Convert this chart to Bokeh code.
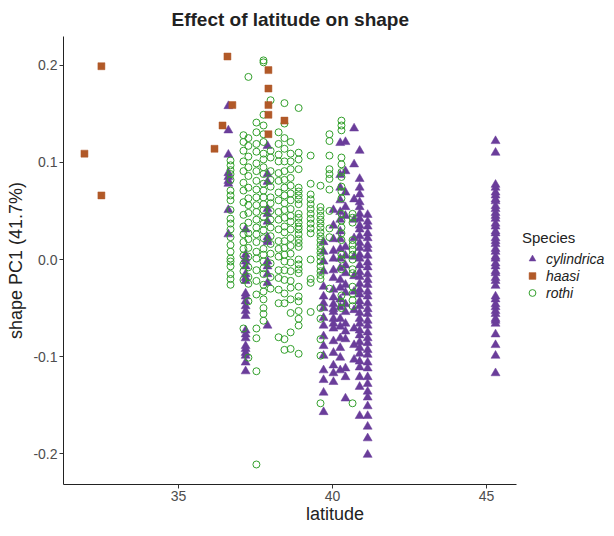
from bokeh.plotting import figure
from bokeh.layouts import row
from bokeh.models import Legend, LegendItem, FixedTicker, PrintfTickFormatter, Range1d, Spacer
from bokeh.embed import file_html
from bokeh.resources import INLINE

# ---------------- data ----------------
# haasi
haasi_lat = [31.95, 32.5, 32.5, 36.17, 36.43, 36.59, 36.75, 37.92, 37.92, 37.92, 37.92, 37.92, 38.44]
haasi_pc1 = [0.109, 0.199, 0.066, 0.114, 0.138, 0.209, 0.159, 0.195, 0.176, 0.159, 0.149, 0.129, 0.143]

# cylindrica (site latitudes and PC1 values per site)
cyl_sites = [36.62, 37.18, 37.89, 39.71, 40.03, 40.25, 40.42, 40.70, 40.88, 41.14, 45.29]
cyl_36_6 = [0.158, 0.133, 0.108, 0.089, 0.085, 0.081, 0.078, 0.051, 0.026]
cyl_37_2 = [0.031, 0.005, 0.001, -0.002, -0.007, -0.015, -0.019, -0.022, -0.035, -0.038, -0.043,
            -0.048, -0.053, -0.058, -0.073, -0.077, -0.081, -0.089, -0.092, -0.096, -0.099, -0.106, -0.115]
cyl_37_9 = [0.117, 0.088, 0.080, 0.052, 0.047, 0.039, 0.023, 0.020, 0.018, -0.002, -0.007, -0.015, -0.024, -0.068]
cyl_39_7 = [0.018, 0.008, -0.002, -0.012, -0.028, -0.038, -0.045, -0.050, -0.060, -0.068, -0.079,
            -0.089, -0.099, -0.114, -0.124, -0.137, -0.157]
cyl_40_0 = [0.051, 0.035, 0.021, 0.009, 0.001, -0.011, -0.019, -0.031, -0.039, -0.046, -0.051, -0.054,
            -0.061, -0.066, -0.071, -0.084, -0.096, -0.109, -0.117, -0.126]
cyl_40_3 = [0.120, 0.087, 0.074, 0.061, 0.049, 0.041, 0.029, 0.021, 0.011, 0.001, -0.009, -0.021,
            -0.029, -0.041, -0.049, -0.061, -0.069, -0.081, -0.091, -0.101, -0.114]
cyl_40_4 = [0.121, 0.091, 0.069, 0.054, 0.045, 0.013, 0.004, -0.006, -0.014, -0.026, -0.034, -0.046,
            -0.054, -0.066, -0.074, -0.082, -0.112, -0.121, -0.143]
cyl_40_7 = [0.135, 0.098, 0.062, 0.041, 0.022, 0.003, -0.017, -0.033, -0.052, -0.071, -0.088, -0.103]
cyl_40_9 = [0.112, 0.083, 0.074, 0.067, 0.059, 0.054, 0.047, 0.042, 0.035, 0.031, 0.024, 0.017, 0.012,
            0.005, 0.001, -0.006, -0.013, -0.018, -0.025, -0.031, -0.036, -0.043, -0.048, -0.055, -0.061,
            -0.066, -0.073, -0.078, -0.085, -0.091, -0.097, -0.105, -0.111, -0.121, -0.131, -0.161]
cyl_41_1 = [0.046, 0.039, 0.034, 0.027, 0.022, 0.015, 0.011, 0.004, -0.003, -0.008, -0.015, -0.021,
            -0.026, -0.033, -0.038, -0.045, -0.051, -0.056, -0.063, -0.068, -0.075, -0.081, -0.086,
            -0.093, -0.098, -0.106, -0.112, -0.121, -0.128, -0.136, -0.142, -0.151, -0.161, -0.172,
            -0.184, -0.201]
cyl_45_3 = [0.122, 0.110, 0.077, 0.074, 0.069, 0.066, 0.062, 0.060, 0.055, 0.052, 0.048, 0.045, 0.042,
            0.037, 0.034, 0.029, 0.027, 0.022, 0.019, 0.016, 0.011, 0.008, 0.003, 0.001, -0.004, -0.007,
            -0.012, -0.014, -0.019, -0.022, -0.027, -0.038, -0.041, -0.046, -0.049, -0.053, -0.056,
            -0.061, -0.063, -0.066, -0.077, -0.088, -0.099, -0.117]
cyl_values = [cyl_36_6, cyl_37_2, cyl_37_9, cyl_39_7, cyl_40_0, cyl_40_3, cyl_40_4, cyl_40_7,
              cyl_40_9, cyl_41_1, cyl_45_3]

# rothi
rot_sites = [36.69, 37.11, 37.27, 37.53, 37.76, 37.99, 38.25, 38.44, 38.64, 38.90, 39.29, 39.61, 39.90, 40.29, 40.65]
rot_36_7 = [0.102, 0.097, 0.092, 0.088, 0.082, 0.071, 0.066, 0.061, 0.051, 0.042, 0.037, 0.031, 0.023,
            0.015, 0.008, 0.001, -0.002, -0.007, -0.015, -0.020, -0.026]
rot_37_1 = [0.128, 0.121, 0.112, 0.101, 0.091, 0.079, 0.071, 0.059, 0.046, 0.034, 0.026, 0.018, 0.011,
            0.004, -0.005, -0.012, -0.021, -0.071]
rot_37_3 = [0.188, 0.125, 0.117, 0.106, 0.095, 0.086, 0.074, 0.063, 0.056, 0.048, 0.038, 0.027, 0.021,
            0.012, 0.003, -0.008, -0.018, -0.025, -0.043, -0.101]
rot_37_5 = [0.141, 0.131, 0.119, 0.111, 0.099, 0.091, 0.081, 0.072, 0.064, 0.056, 0.049, 0.041, 0.033,
            0.026, 0.018, 0.008, 0.001, -0.011, -0.022, -0.036, -0.071, -0.081, -0.115, -0.211]
rot_37_8 = [0.205, 0.203, 0.149, 0.138, 0.129, 0.121, 0.109, 0.103, 0.095, 0.088, 0.078, 0.071, 0.064,
            0.057, 0.051, 0.044, 0.037, 0.030, 0.022, 0.011, 0.005, -0.002, -0.009, -0.015, -0.026,
            -0.033, -0.041, -0.050, -0.056, -0.063]
rot_38_0 = [0.164, 0.112, 0.105, 0.091, 0.082, 0.075, 0.064, 0.058, 0.050, 0.041, 0.033, 0.024, 0.016,
            0.006, -0.004, -0.018, -0.030]
rot_38_2 = [0.131, 0.119, 0.108, 0.101, 0.089, 0.081, 0.069, 0.061, 0.049, 0.041, 0.031, 0.019, 0.011,
            0.003, -0.011, -0.019, -0.031, -0.045, -0.080]
rot_38_4 = [0.161, 0.140, 0.125, 0.114, 0.101, 0.091, 0.082, 0.074, 0.066, 0.058, 0.051, 0.043, 0.034,
            0.028, 0.019, 0.012, 0.005, -0.002, -0.011, -0.021, -0.035, -0.045, -0.082, -0.093]
rot_38_6 = [0.121, 0.109, 0.101, 0.093, 0.084, 0.076, 0.068, 0.061, 0.052, 0.045, 0.039, 0.031, 0.022,
            0.014, 0.006, -0.003, -0.012, -0.022, -0.029, -0.041, -0.055, -0.075, -0.092]
rot_38_9 = [0.156, 0.110, 0.103, 0.093, 0.074, 0.070, 0.066, 0.062, 0.057, 0.047, 0.043, 0.038, 0.034,
            0.031, 0.026, 0.021, 0.017, 0.013, 0.000, -0.005, -0.010, -0.014, -0.028, -0.038, -0.043,
            -0.053, -0.061, -0.068, -0.097]
rot_39_3 = [0.107, 0.078, 0.067, 0.062, 0.057, 0.052, 0.047, 0.042, 0.037, 0.032, 0.027, 0.000,
            -0.020, -0.024, -0.054]
rot_39_6 = [0.076, 0.054, 0.050, 0.045, 0.041, 0.037, 0.033, 0.028, 0.024, 0.020, 0.015, 0.011, 0.007,
            0.003, -0.002, -0.007, -0.012, -0.016, -0.020, -0.050, -0.061, -0.082, -0.099, -0.148]
rot_39_9 = [0.129, 0.122, 0.107, 0.093, 0.088, 0.083, 0.072, 0.050, 0.032, 0.023, -0.030]
rot_40_3 = [0.143, 0.138, 0.133, 0.105, 0.098, 0.090, 0.085, 0.075, 0.070, 0.063, 0.047, 0.040, 0.033,
            0.027, 0.020, 0.005, 0.000, -0.010, -0.037, -0.044, -0.050]
rot_40_6 = [0.047, 0.043, 0.038, 0.020, 0.015, 0.010, 0.005, 0.000, -0.010, -0.014, -0.028, -0.035,
            -0.042, -0.048, -0.148]
rot_values = [rot_36_7, rot_37_1, rot_37_3, rot_37_5, rot_37_8, rot_38_0, rot_38_2, rot_38_4, rot_38_6,
              rot_38_9, rot_39_3, rot_39_6, rot_39_9, rot_40_3, rot_40_6]

species = ["cylindrica", "haasi", "rothi"]
colors = ["#6A3D9A", "#B15928", "#33A02C"]
x_ticks = [35, 40, 45]
y_ticks = [-0.2, -0.1, 0.0, 0.1, 0.2]


def expand(sites, values):
    xs, ys = [], []
    for lat, vals in zip(sites, values):
        xs += [lat] * len(vals)
        ys += vals
    return xs, ys


cyl_lat, cyl_pc1 = expand(cyl_sites, cyl_values)
rot_lat, rot_pc1 = expand(rot_sites, rot_values)

# ---------------- figure ----------------
FONT = "Liberation Sans"
X0, X1 = 31.27, 45.97          # visible axis extent
PANEL_W = 453                  # width of the data panel in px
FRAME_W = 543                  # frame extends right to host the legend
x_end = X0 + (X1 - X0) * FRAME_W / PANEL_W

p = figure(frame_width=FRAME_W, frame_height=448, output_backend="svg", toolbar_location=None,
           x_range=Range1d(X0, x_end), y_range=Range1d(-0.2316, 0.2296),
           min_border_left=0, min_border_right=0, min_border_top=0, min_border_bottom=0,
           title="Effect of latitude on shape")
p.title.align = "left"
p.title.offset = 108
p.title.standoff = 13
p.title.text_font = FONT
p.title.text_font_size = "19px"
p.title.text_font_style = "bold"
p.title.text_color = "#222222"

p.grid.visible = False
p.outline_line_color = None

for ax in (p.xaxis[0], p.yaxis[0]):
    ax.axis_line_color = "#222222"
    ax.axis_line_width = 1
    ax.major_tick_line_color = "#333333"
    ax.major_tick_out = 4
    ax.major_tick_in = 0
    ax.minor_tick_line_color = None
    ax.major_label_text_font = FONT
    ax.major_label_text_font_size = "14px"
    ax.major_label_text_color = "#4D4D4D"
    ax.axis_label_text_font = FONT
    ax.axis_label_text_font_size = "18px"
    ax.axis_label_text_font_style = "normal"
    ax.axis_label_text_color = "#222222"

p.xaxis.bounds = (X0, X1)
p.xaxis.ticker = FixedTicker(ticks=x_ticks)
p.yaxis.ticker = FixedTicker(ticks=y_ticks)
p.yaxis.formatter = PrintfTickFormatter(format="%.1f")
p.xaxis.axis_label = "latitude"
p.yaxis.axis_label = "shape PC1 (41.7%)"
p.xaxis.axis_label_standoff = 0
p.xaxis.major_label_standoff = 2
p.yaxis.axis_label_standoff = 4
p.yaxis.major_label_standoff = 2

r_cyl = p.scatter(cyl_lat, cyl_pc1, marker="triangle", size=9, fill_color=colors[0],
                  line_color=colors[0], line_width=0.5)
r_rot = p.scatter(rot_lat, rot_pc1, marker="circle", size=7, fill_color=None,
                  line_color=colors[2], line_width=1)
r_haa = p.scatter(haasi_lat, haasi_pc1, marker="square", size=7, fill_color=colors[1],
                  line_color=colors[1], line_width=0.5)

legend = Legend(items=[LegendItem(label=species[0], renderers=[r_cyl]),
                       LegendItem(label=species[1], renderers=[r_haa]),
                       LegendItem(label=species[2], renderers=[r_rot])],
                location=(459, 183), title="Species")
legend.title_text_font = FONT
legend.title_text_font_size = "15px"
legend.title_text_font_style = "normal"
legend.title_text_color = "#222222"
legend.title_standoff = 4
legend.label_text_font = FONT
legend.label_text_font_size = "14px"
legend.label_text_font_style = "italic"
legend.label_text_color = "#222222"
legend.label_standoff = 4
legend.glyph_width = 20
legend.glyph_height = 17
legend.label_height = 17
legend.spacing = 0
legend.padding = 0
legend.margin = 0
legend.border_line_color = None
legend.background_fill_alpha = 0
p.add_layout(legend, "center")

layout = row(Spacer(width=3), p)
open("out.html", "w").write(file_html(layout, INLINE))
